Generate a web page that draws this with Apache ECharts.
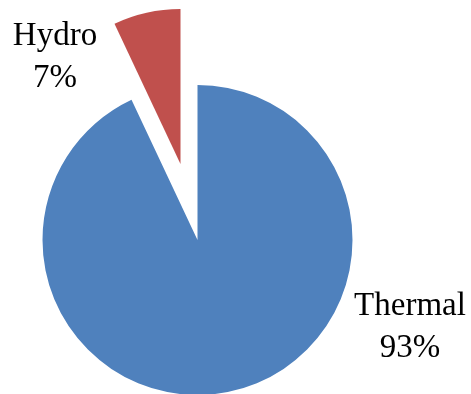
<!DOCTYPE html>
<html lang="en">
<head>
    <meta charset="UTF-8">
    <title>Thermal vs Hydro</title>
    <script type="text/javascript" src="https://cdn.jsdelivr.net/npm/echarts@6/dist/echarts.min.js"></script>
    <style>
        html, body { margin: 0; padding: 0; background: #fff; }
    </style>
</head>
<body>
    <div id="main" style="width: 471px; height: 394px;"></div>
    <script type="text/javascript">
        // data
        var categories = ['Thermal', 'Hydro'];
        var values = [93, 7];
        var colors = ['#4F81BD', '#C0504D'];
        var exploded = [false, true];
        // label centres (px)
        var labelPos = [[410, 327], [55, 57]];

        var myChart = echarts.init(document.getElementById('main'));

        var total = values.reduce(function (a, b) { return a + b; }, 0);

        var pieData = categories.map(function (name, i) {
            return {
                name: name,
                value: values[i],
                selected: exploded[i],
                itemStyle: { color: colors[i] }
            };
        });

        // the pie's own labels get pushed around by the selected offset,
        // so the labels are placed as plain text
        var labels = categories.map(function (name, i) {
            return {
                type: 'text',
                x: labelPos[i][0],
                y: labelPos[i][1],
                style: {
                    text: name + '\n' + Math.round(values[i] / total * 100) + '%',
                    fontFamily: '"Liberation Serif", "Times New Roman", serif',
                    fontSize: 33,
                    lineHeight: 42,
                    fill: '#000',
                    align: 'center',
                    verticalAlign: 'middle'
                },
                silent: true
            };
        });

        var option = {
            animation: false,
            graphic: labels,
            series: [{
                type: 'pie',
                center: [197.5, 240],
                radius: 155,
                startAngle: 90,
                clockwise: true,
                selectedMode: 'single',
                selectedOffset: 78,
                itemStyle: { borderWidth: 0 },
                emphasis: { disabled: true },
                label: { show: false },
                labelLine: { show: false },
                data: pieData
            }]
        };

        myChart.setOption(option);
    </script>
</body>
</html>
